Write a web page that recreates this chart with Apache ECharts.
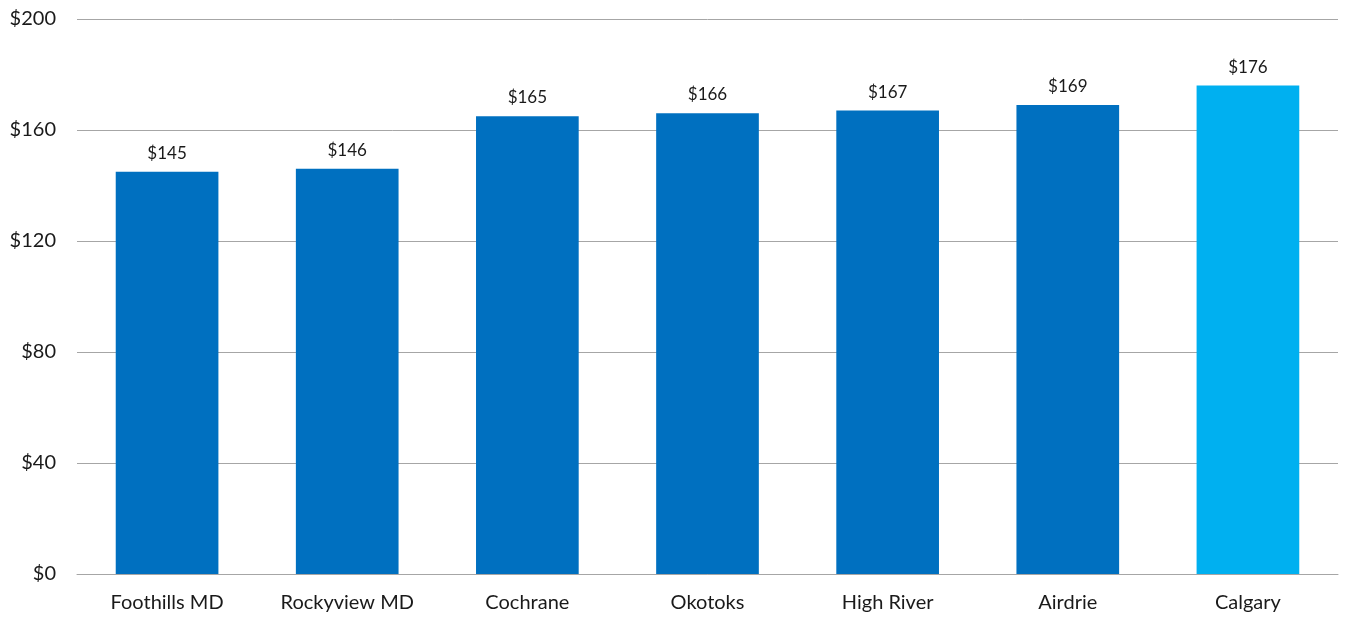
<!DOCTYPE html>
<html>
<head>
<meta charset="utf-8">
<script src="https://cdn.jsdelivr.net/npm/echarts@6/dist/echarts.min.js"></script>
<style>
  html, body { margin: 0; padding: 0; background: #fff; }
  #chart { width: 1351px; height: 621px; }
</style>
</head>
<body>
<div id="chart"></div>
<script>
// Municipalities and their values (dollars)
const categories = ['Foothills MD', 'Rockyview MD', 'Cochrane', 'Okotoks', 'High River', 'Airdrie', 'Calgary'];
const values = [145, 146, 165, 166, 167, 169, 176];
const highlighted = ['Calgary'];
const yTicks = { min: 0, max: 200, interval: 40 };

const FONT = 'Lato, "Open Sans", sans-serif';
const DARK = '#0070C0';
const LIGHT = '#00B0F0';

const chart = echarts.init(document.getElementById('chart'));
chart.setOption({
  animation: false,
  grid: { left: 77, right: 13, top: 19, bottom: 47, containLabel: false },
  xAxis: {
    type: 'category',
    data: categories,
    axisLine: { lineStyle: { color: '#A6A6A6', width: 1 } },
    axisTick: { show: false },
    axisLabel: { color: '#1a1a1a', fontFamily: FONT, fontSize: 20, margin: 19 }
  },
  yAxis: {
    type: 'value',
    min: yTicks.min,
    max: yTicks.max,
    interval: yTicks.interval,
    axisLine: { show: false },
    axisTick: { show: false },
    splitLine: { lineStyle: { color: '#A6A6A6', width: 1 } },
    axisLabel: { color: '#1a1a1a', fontFamily: FONT, fontSize: 20, margin: 21, formatter: v => '$' + v }
  },
  series: [{
    type: 'bar',
    barWidth: '57%',
    data: values.map((v, i) => ({
      value: v,
      itemStyle: { color: highlighted.includes(categories[i]) ? LIGHT : DARK }
    })),
    label: {
      show: true,
      position: 'top',
      distance: 10,
      color: '#1a1a1a',
      fontFamily: FONT,
      fontSize: 17,
      formatter: p => '$' + p.value
    }
  }]
});
</script>
</body>
</html>
